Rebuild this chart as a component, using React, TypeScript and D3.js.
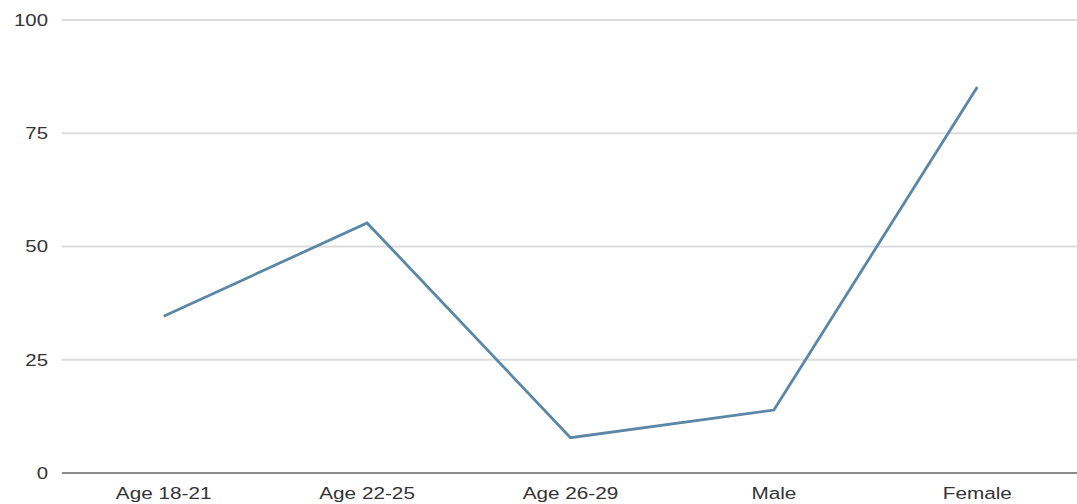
import React from "react";
import * as d3 from "d3";

const categories = ["Age 18-21", "Age 22-25", "Age 26-29", "Male", "Female"];
const values = [34.6, 55.2, 7.8, 13.9, 85.2];
const yTicks = [0, 25, 50, 75, 100];

const W = 1077;
const H = 504;
const left = 62;
const right = 1079;
const top = 20;
const bottom = 473;

export default function App() {
  const x = d3.scaleBand<string>().domain(categories).range([left, right]);
  const y = d3.scaleLinear().domain([0, 100]).range([bottom, top]);
  const line = d3
    .line<number>()
    .x((_, i) => (x(categories[i]) as number) + x.bandwidth() / 2)
    .y((d) => y(d));

  return (
    <svg
      width={W}
      height={H}
      style={{ position: "absolute", left: 0, top: 0, background: "#fff" }}
      fontFamily="Liberation Sans, Arial, sans-serif"
    >
      {yTicks.map((t) => (
        <g key={t}>
          {t !== 0 && (
            <line x1={left} x2={W} y1={y(t)} y2={y(t)} stroke="#dcdcdc" strokeWidth={2} />
          )}
          <text
            x={48}
            y={y(t)}
            textAnchor="end"
            dominantBaseline="central"
            fontSize={17}
            fill="#333"
            transform={`translate(48 0) scale(1.2 1) translate(-48 0)`}
          >
            {t}
          </text>
        </g>
      ))}
      <line x1={left} x2={W} y1={y(0)} y2={y(0)} stroke="#8a8a8a" strokeWidth={2} />
      <path d={line(values) ?? ""} fill="none" stroke="#5a87a6" strokeWidth={2.8} strokeLinejoin="miter" />
      {categories.map((c) => {
        const cx = (x(c) as number) + x.bandwidth() / 2;
        return (
          <text
            key={c}
            x={cx}
            y={499}
            textAnchor="middle"
            fontSize={17}
            fill="#333"
            transform={`translate(${cx} 0) scale(1.22 1) translate(${-cx} 0)`}
          >
            {c}
          </text>
        );
      })}
    </svg>
  );
}
